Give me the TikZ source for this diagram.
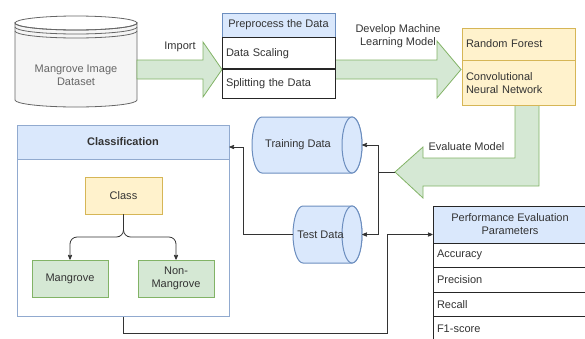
\documentclass[tikz,border=0pt]{standalone}
\usepackage{fontspec}
\setmainfont{Liberation Sans}
\usetikzlibrary{arrows}
\usetikzlibrary{positioning}

\definecolor{bluefill}{HTML}{DAE8FC}
\definecolor{bluedraw}{HTML}{6C8EBF}
\definecolor{yelfill}{HTML}{FFF2CC}
\definecolor{yeldraw}{HTML}{D6B656}
\definecolor{grnfill}{HTML}{D5E8D4}
\definecolor{grndraw}{HTML}{82B366}
\definecolor{grayfill}{HTML}{F5F5F5}
\definecolor{graydraw}{HTML}{666666}
\definecolor{txt}{HTML}{333333}

\tikzset{
 every node/.style={font=\fontsize{11}{13}\selectfont, text=txt},
 cell/.style={draw=black!85, fill=white, line width=.7pt, inner xsep=4, inner ysep=0, align=left},
 hdr/.style={draw=bluedraw, fill=bluefill, line width=.7pt, inner sep=0, align=center},
 ycell/.style={draw=yeldraw, fill=yelfill, line width=.7pt, inner xsep=4, inner ysep=0, align=left},
 leaf/.style={draw=grndraw, fill=grnfill, line width=.7pt, minimum width=76, minimum height=37, inner sep=0, align=center},
 store/.style={draw=bluedraw, fill=bluefill, line width=1pt},
 bigarrow/.style={fill=grnfill, draw=grndraw, line width=.8pt},
 conn/.style={draw=black!80, line width=.8pt, >=stealth'},
}

\begin{document}
\begin{tikzpicture}[x=1pt,y=-1pt]
\useasboundingbox (0,0) rectangle (585,338);
\clip (0,0) rectangle (585,338);

% image dataset
\filldraw[fill=grayfill, draw=graydraw, line width=.8pt] (15,23) -- (15,100) arc(180:0:61 and 7) -- (137,23) arc(0:180:61 and 7) -- cycle;
\draw[draw=graydraw, line width=.8pt] (76,23) ellipse (61 and 7);
\foreach \y in {27,31} {
 \draw[draw=graydraw, line width=.8pt] (15,\y) arc(180:0:61 and 7);
}
\node[text=graydraw, align=center] (dataset) at (76,75.5) {Mangrove Image\\Dataset};

% block arrows
\filldraw[bigarrow] (137,60) -- (203,60) -- (203,42) -- (222,69.5) -- (203,97) -- (203,79) -- (137,79) -- cycle;
\node (import) at (180,47) {Import};
\filldraw[bigarrow] (335,60) -- (437,60) -- (437,41) -- (461,69.5) -- (437,98) -- (437,79) -- (335,79) -- cycle;
\node[align=center] (develop) at (398,36) {Develop Machine\\Learning Model};
\filldraw[bigarrow] (515,105) -- (515,158) -- (423,158) -- (423,147) -- (395,172) -- (423,198) -- (423,186) -- (539,186) -- (539,105) -- cycle;
\node (evaluate) at (466.5,147) {Evaluate Model};

% preprocessing
\node[hdr, minimum width=113, minimum height=24] (prehd) at (278.5,25) {Preprocess the Data};
\node[cell, text width=105, minimum height=31, below=0pt of prehd] (scaling) {Data Scaling};
\node[cell, text width=105, minimum height=29, below=0pt of scaling] (split) {Splitting the Data};

% models
\node[ycell, text width=105, minimum height=32] (rf) at (518.5,44) {Random Forest};
\node[ycell, text width=105, minimum height=45, below=0pt of rf] (cnn) {Convolutional\\Neural Network};

% data sets
\filldraw[store] (262,117) -- (352,117) arc(-90:90:10 and 28) -- (262,173) arc(90:270:10 and 28) -- cycle;
\draw[store] (352,145) ellipse (10 and 28);
\node[minimum width=110, minimum height=56, inner sep=0, label={[xshift=-9pt]center:Training Data}] (train) at (307,145) {};
\filldraw[store] (303,206) -- (352,206) arc(-90:90:10 and 28.5) -- (303,263) arc(90:270:10 and 28.5) -- cycle;
\draw[store] (352,234.5) ellipse (10 and 28.5);
\node[minimum width=69, minimum height=57, inner sep=0, label={[xshift=-7pt]center:Test Data}] (test) at (327.5,234.5) {};

% classification
\node[hdr, draw=bluedraw!75, minimum width=212, minimum height=34] (clshd) at (123,142) {\textbf{Classification}};
\node[draw=bluedraw!75, fill=white, line width=.7pt, minimum width=212, minimum height=157, inner sep=0, below=0pt of clshd] (cls) {};
\node[ycell, minimum width=77, minimum height=37, align=center, inner sep=0] (class) at (123.5,195.5) {Class};
\node[leaf] (mang) at (70,278.5) {Mangrove};
\node[leaf] (nonmang) at (176,278.5) {Non-\\Mangrove};

% performance
\node[hdr, draw=black!85, minimum width=154, minimum height=37] (perfhd) at (510,224.5) {Performance Evaluation\\Parameters};
\foreach \t [count=\i] in {Accuracy,Precision,Recall,F1-score} {
 \node[cell, text width=146, minimum height=24.5] (perf\i) at (510,{230.75+24.5*\i}) {\t};
}

% connectors
\draw[conn, ->, rounded corners=7] (class.south) -- (123.5,237) -| (mang.north);
\draw[conn, ->, rounded corners=7] (class.south) -- (123.5,237) -| (nonmang.north);
\coordinate (evaltip) at (395,172);
\coordinate (fork) at (378,172);
\draw[conn] (evaltip) -- (fork);
\draw[conn, ->] (fork) |- (train.east);
\draw[conn, ->] (fork) |- (test.east);
\coordinate (back) at (243,147);
\draw[conn, ->] (test.west) -| (back) -- (back -| clshd.east);
\coordinate (turn) at (387,333);
\draw[conn, ->] (cls.south) |- (turn) |- (perfhd.west |- test.east);
\end{tikzpicture}
\end{document}
